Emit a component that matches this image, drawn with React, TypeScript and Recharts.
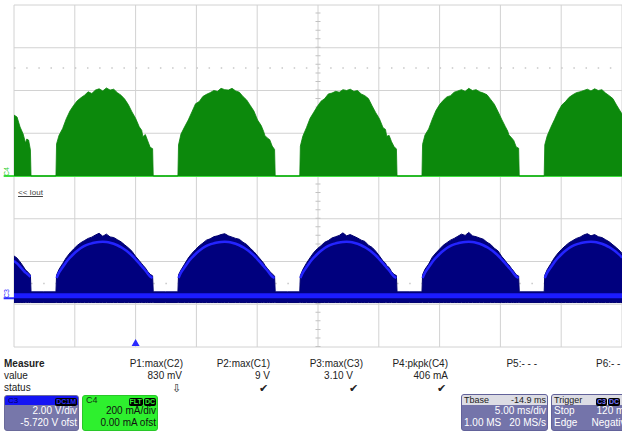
import React from "react"
import {
  ComposedChart,
  Area,
  Line,
  XAxis,
  YAxis,
  CartesianGrid,
  ReferenceLine,
  ReferenceDot,
} from "recharts"

// time base: 5 ms/div, 10 divisions shown
const timeTicks = [0, 5, 10, 15, 20, 25, 30, 35, 40, 45, 50]
// C4 (Iout): 200 mA/div, 0 mA offset
const ioutTicks = [-800, -600, -400, -200, 0, 200, 400, 600, 800]
// C3: 2 V/div, -5.720 V offset -> screen centre is 5.72 V
const voutDomain = [-2.28, 13.72]
const voutFloor = -0.2

const time = [
  0, 0.25, 0.5, 0.75, 0.95, 1.05, 1.2, 1.35, 1.4, 2.4,
  3.45, 3.5, 3.7, 4.0, 4.3, 4.6, 4.9, 5.2, 5.5, 5.8, 6.1, 6.4, 6.7, 7.0, 7.3, 7.6, 7.9, 8.2, 8.5, 8.8, 9.1, 9.4, 9.7, 10.0, 10.3, 10.5, 10.6, 10.8, 11.0, 11.2, 11.4, 11.45, 12.45,
  13.48, 13.53, 13.73, 14.03, 14.33, 14.63, 14.93, 15.23, 15.53, 15.83, 16.13, 16.43, 16.73, 17.03, 17.33, 17.63, 17.93, 18.23, 18.53, 18.83, 19.13, 19.43, 19.73, 20.03, 20.33, 20.53, 20.63, 20.83, 21.03, 21.23, 21.43, 21.48, 22.5,
  23.5, 23.55, 23.75, 24.05, 24.35, 24.65, 24.95, 25.25, 25.55, 25.85, 26.15, 26.45, 26.75, 27.05, 27.35, 27.65, 27.95, 28.25, 28.55, 28.85, 29.15, 29.45, 29.75, 30.05, 30.35, 30.55, 30.65, 30.85, 31.05, 31.25, 31.45, 31.5, 32.5,
  33.55, 33.6, 33.8, 34.1, 34.4, 34.7, 35.0, 35.3, 35.6, 35.9, 36.2, 36.5, 36.8, 37.1, 37.4, 37.7, 38.0, 38.3, 38.6, 38.9, 39.2, 39.5, 39.8, 40.1, 40.4, 40.6, 40.7, 40.9, 41.1, 41.3, 41.5, 41.55, 42.6,
  43.6, 43.65, 43.85, 44.15, 44.45, 44.75, 45.05, 45.35, 45.65, 45.95, 46.25, 46.55, 46.85, 47.15, 47.45, 47.75, 48.05, 48.35, 48.65, 48.95, 49.25, 49.55, 49.85, 50.0,
]

// C4 Iout, mA
const iout = [
  285, 276, 229, 197, 154, 173, 168, 122, 0, 0,
  0, 150, 190, 222, 268, 304, 330, 352, 366, 378, 394, 386, 402, 408, 398, 412, 402, 406, 390, 378, 360, 334, 300, 270, 230, 214, 184, 194, 164, 134, 128, 0, 0,
  0, 145, 196, 230, 262, 300, 338, 348, 372, 382, 390, 400, 396, 410, 404, 402, 410, 398, 392, 372, 356, 330, 304, 262, 236, 208, 190, 178, 170, 140, 124, 0, 0,
  0, 140, 186, 226, 270, 298, 326, 350, 362, 384, 388, 396, 392, 404, 400, 406, 396, 400, 384, 376, 362, 328, 296, 268, 226, 218, 186, 190, 160, 138, 126, 0, 0,
  0, 148, 192, 220, 266, 306, 334, 354, 370, 376, 392, 398, 404, 396, 410, 400, 404, 394, 388, 380, 358, 336, 302, 266, 232, 210, 192, 180, 166, 136, 130, 0, 0,
  0, 146, 188, 228, 264, 302, 332, 348, 368, 380, 390, 394, 400, 406, 398, 408, 400, 404, 388, 376, 362, 332, 304, 290,
]

// C3, V (envelope top)
const vout = [
  1.98, 1.88, 1.7, 1.5, 1.32, 1.28, 1.18, 1.1, 0.3, 0.3,
  0.3, 1.08, 1.35, 1.62, 1.9, 2.12, 2.3, 2.47, 2.6, 2.7, 2.8, 2.86, 2.96, 3.04, 2.9, 3.0, 2.87, 2.84, 2.74, 2.64, 2.5, 2.36, 2.2, 1.96, 1.76, 1.62, 1.55, 1.42, 1.25, 1.12, 1.05, 0.3, 0.3,
  0.3, 1.1, 1.32, 1.6, 1.88, 2.1, 2.28, 2.45, 2.58, 2.72, 2.78, 2.88, 2.92, 2.98, 3.02, 2.92, 2.86, 2.8, 2.76, 2.62, 2.52, 2.34, 2.18, 1.98, 1.78, 1.64, 1.54, 1.4, 1.26, 1.14, 1.04, 0.3, 0.3,
  0.3, 1.06, 1.34, 1.64, 1.9, 2.14, 2.32, 2.46, 2.62, 2.7, 2.82, 2.88, 2.94, 3.06, 2.92, 2.98, 2.9, 2.82, 2.72, 2.66, 2.48, 2.38, 2.2, 1.98, 1.74, 1.64, 1.52, 1.44, 1.24, 1.12, 1.06, 0.3, 0.3,
  0.3, 1.1, 1.36, 1.6, 1.92, 2.12, 2.3, 2.48, 2.6, 2.72, 2.8, 2.9, 3.0, 2.94, 3.08, 2.92, 2.88, 2.82, 2.76, 2.62, 2.52, 2.34, 2.22, 1.96, 1.76, 1.6, 1.56, 1.4, 1.26, 1.1, 1.04, 0.3, 0.3,
  0.3, 1.08, 1.34, 1.62, 1.9, 2.12, 2.3, 2.46, 2.6, 2.7, 2.8, 2.86, 2.96, 3.02, 2.92, 2.98, 2.88, 2.84, 2.74, 2.64, 2.5, 2.36, 2.2, 2.1,
]

// C3 bright trace inside the envelope, V
const voutArc = [
  1.75, 1.63, 1.48, 1.32, 1.2, 1.16, 1.08, 1.0, null, null,
  null, 0.95, 1.2, 1.45, 1.7, 1.9, 2.07, 2.22, 2.35, 2.45, 2.52, 2.57, 2.61, 2.63, 2.64, 2.63, 2.6, 2.55, 2.48, 2.39, 2.28, 2.15, 2.0, 1.82, 1.63, 1.5, 1.43, 1.3, 1.15, 1.02, 0.95, null, null,
  null, 0.95, 1.2, 1.45, 1.7, 1.9, 2.07, 2.22, 2.35, 2.45, 2.52, 2.57, 2.61, 2.63, 2.64, 2.63, 2.6, 2.55, 2.48, 2.39, 2.28, 2.15, 2.0, 1.82, 1.63, 1.5, 1.43, 1.3, 1.15, 1.02, 0.95, null, null,
  null, 0.95, 1.2, 1.45, 1.7, 1.9, 2.07, 2.22, 2.35, 2.45, 2.52, 2.57, 2.61, 2.63, 2.64, 2.63, 2.6, 2.55, 2.48, 2.39, 2.28, 2.15, 2.0, 1.82, 1.63, 1.5, 1.43, 1.3, 1.15, 1.02, 0.95, null, null,
  null, 0.95, 1.2, 1.45, 1.7, 1.9, 2.07, 2.22, 2.35, 2.45, 2.52, 2.57, 2.61, 2.63, 2.64, 2.63, 2.6, 2.55, 2.48, 2.39, 2.28, 2.15, 2.0, 1.82, 1.63, 1.5, 1.43, 1.3, 1.15, 1.02, 0.95, null, null,
  null, 0.95, 1.2, 1.45, 1.7, 1.9, 2.07, 2.22, 2.35, 2.45, 2.52, 2.57, 2.61, 2.63, 2.64, 2.63, 2.6, 2.55, 2.48, 2.39, 2.28, 2.15, 2.0, 1.9,
]

// faint dotted levels
const ioutDotLevel = 505
const voutDotLevel = 0.69
const voutGaps = [
  [1.4, 3.45],
  [11.45, 13.48],
  [21.48, 23.5],
  [31.5, 33.55],
  [41.55, 43.6],
]

const measureNames = ["P1:max(C2)", "P2:max(C1)", "P3:max(C3)", "P4:pkpk(C4)", "P5:- - -", "P6:- -"]
const measureValues = ["830 mV", "9 V", "3.10 V", "406 mA", "", ""]
const measureStatus = ["⇩", "✔", "✔", "✔", "", ""]

const rows = time.map((t, i) => ({ t, iout: iout[i], vout: vout[i], arc: voutArc[i] }))
const dotRows = voutGaps.flatMap(([a, b]) => [
  { t: a, v: voutDotLevel },
  { t: b, v: voutDotLevel },
  { t: b + 0.001, v: null },
])

const FONT = '"Liberation Sans", Arial, sans-serif'

function T({ x, y, right, children, style }: any) {
  const w = 140
  return (
    <div
      style={{
        position: "absolute",
        left: right ? x - w : x,
        top: y - 6,
        width: w,
        textAlign: right ? "right" : "left",
        fontSize: 10,
        lineHeight: "12px",
        whiteSpace: "nowrap",
        color: "#222",
        ...style,
      }}
    >
      {children}
    </div>
  )
}

function Badge({ children, color }: any) {
  return (
    <span
      style={{
        background: "#000",
        color,
        fontSize: 7,
        lineHeight: "8px",
        fontWeight: "bold",
        padding: "0 1px",
        marginLeft: 1,
        borderRadius: 2,
        display: "inline-block",
      }}
    >
      {children}
    </span>
  )
}

const Triangle = (p: any) => (
  <polygon
    points={`${p.cx - 4},${p.cy - 1} ${p.cx + 4},${p.cy - 1} ${p.cx},${p.cy - 8}`}
    fill="#2a2aff"
  />
)

const statusStyle = { fontSize: 11, color: "#222" }

export default function App() {
  return (
    <div
      style={{
        position: "absolute",
        left: 0,
        top: 0,
        width: 622,
        height: 437,
        overflow: "hidden",
        background: "#fff",
        fontFamily: FONT,
      }}
    >
      <ComposedChart
        width={622}
        height={437}
        data={rows}
        margin={{ top: 5, right: 0, bottom: 90, left: 14 }}
      >
        <XAxis dataKey="t" type="number" domain={[0, 50]} ticks={timeTicks} hide allowDataOverflow />
        <YAxis yAxisId="c4" type="number" domain={[-800, 800]} ticks={ioutTicks} hide />
        <YAxis yAxisId="c3" type="number" domain={voutDomain} hide allowDataOverflow />
        <CartesianGrid yAxisId="c4" stroke="#d2d2d2" />
        <ReferenceLine
          yAxisId="c4"
          x={25}
          stroke="#c2c2c2"
          strokeWidth={5}
          strokeDasharray="1 7.55"
          zIndex={-50}
        />
        <ReferenceLine
          yAxisId="c4"
          y={ioutDotLevel}
          stroke="#c8c8c8"
          strokeWidth={1.5}
          strokeDasharray="1.5 10.66"
          zIndex={-50}
        />
        <ReferenceLine yAxisId="c4" y={0} stroke="#3fe03f" strokeWidth={2} zIndex={50} />
        <Line
          yAxisId="c3"
          data={dotRows}
          dataKey="v"
          stroke="#c8c8c8"
          strokeWidth={1.5}
          strokeDasharray="1.5 10.66"
          dot={false}
          connectNulls={false}
          isAnimationActive={false}
          zIndex={50}
        />
        <Area
          yAxisId="c4"
          dataKey="iout"
          type="linear"
          baseValue={0}
          fill="#0c890c"
          fillOpacity={1}
          stroke="#0a840a"
          strokeWidth={0.8}
          isAnimationActive={false}
        />
        <Area
          yAxisId="c3"
          dataKey={(d: any) => [voutFloor, d.vout]}
          type="linear"
          fill="#00007e"
          fillOpacity={1}
          stroke="#00006e"
          strokeWidth={1}
          isAnimationActive={false}
        />
        <ReferenceLine yAxisId="c3" y={0.12} stroke="#1c1cff" strokeWidth={5} zIndex={150} />
        <Line
          yAxisId="c3"
          dataKey="arc"
          type="monotone"
          stroke="#2424ff"
          strokeWidth={2.5}
          dot={false}
          connectNulls={false}
          isAnimationActive={false}
        />
        <ReferenceLine
          yAxisId="c4"
          segment={[{ x: -0.85, y: 0 }, { x: 0, y: 0 }]}
          ifOverflow="visible"
          stroke="#3fe03f"
          strokeWidth={2}
        />
        <ReferenceLine
          yAxisId="c3"
          segment={[{ x: -0.85, y: 0 }, { x: 0, y: 0 }]}
          ifOverflow="visible"
          stroke="#2a2aff"
          strokeWidth={2}
        />
        <ReferenceDot
          yAxisId="c4"
          x={10}
          y={-800}
          ifOverflow="visible"
          shape={Triangle}
        />
      </ComposedChart>

      {/* trace labels */}
      <div style={{ position: "absolute", left: 3, top: 176, width: 12, fontSize: 7, lineHeight: "7px", color: "#2fcf2f", transform: "rotate(-90deg)", transformOrigin: "left top" }}>C4</div>
      <div style={{ position: "absolute", left: 3, top: 298, width: 12, fontSize: 7, lineHeight: "7px", color: "#2a2aff", transform: "rotate(-90deg)", transformOrigin: "left top" }}>C3</div>
      <div style={{ position: "absolute", left: 18, top: 188, fontSize: 8, lineHeight: "9px", color: "#444", textDecoration: "underline" }}>
        {"<< Iout"}
      </div>

      {/* measure table */}
      <T x={4} y={364} style={{ fontWeight: "bold" }}>Measure</T>
      <T x={4} y={376}>value</T>
      <T x={4} y={388}>status</T>
      <T x={183} y={364} right>{measureNames[0]}</T>
      <T x={270} y={364} right>{measureNames[1]}</T>
      <T x={363} y={364} right>{measureNames[2]}</T>
      <T x={448} y={364} right>{measureNames[3]}</T>
      <T x={537} y={364} right>{measureNames[4]}</T>
      <T x={596} y={364}>{measureNames[5]}</T>
      <T x={182} y={376} right>{measureValues[0]}</T>
      <T x={270} y={376} right>{measureValues[1]}</T>
      <T x={353} y={376} right>{measureValues[2]}</T>
      <T x={448} y={376} right>{measureValues[3]}</T>
      <T x={181} y={388} right style={statusStyle}>{measureStatus[0]}</T>
      <T x={268} y={388} right style={statusStyle}>{measureStatus[1]}</T>
      <T x={358} y={388} right style={statusStyle}>{measureStatus[2]}</T>
      <T x={446} y={388} right style={statusStyle}>{measureStatus[3]}</T>

      {/* C3 channel box */}
      <div style={{ position: "absolute", left: 4, top: 395, width: 75, height: 36, background: "#7777aa", borderRadius: 3, overflow: "hidden", border: "1px solid #6a6a9a", boxSizing: "border-box" }}>
        <div style={{ height: 9, background: "#1414f4", fontSize: 8, lineHeight: "9px", color: "#000060", paddingLeft: 3, position: "relative" }}>
          C3
          <span style={{ position: "absolute", right: 1, top: 1 }}><Badge color="#2a2aff">DC1M</Badge></span>
        </div>
        <div style={{ fontSize: 10, lineHeight: "12px", color: "#fff", textAlign: "right", paddingRight: 1 }}>2.00 V/div</div>
        <div style={{ fontSize: 10, lineHeight: "12px", color: "#fff", textAlign: "right", paddingRight: 1, whiteSpace: "nowrap" }}>-5.720 V ofst</div>
      </div>

      {/* C4 channel box */}
      <div style={{ position: "absolute", left: 82, top: 395, width: 76, height: 36, background: "#2ef02e", borderRadius: 3, overflow: "hidden", border: "1px solid #28c828", boxSizing: "border-box" }}>
        <div style={{ height: 9, fontSize: 9, lineHeight: "9px", color: "#113311", paddingLeft: 3, position: "relative" }}>
          C4
          <span style={{ position: "absolute", right: 1, top: 1 }}>
            <Badge color="#33ee33">FLT</Badge>
            <Badge color="#33ee33">DC</Badge>
          </span>
        </div>
        <div style={{ fontSize: 10, lineHeight: "12px", color: "#111", textAlign: "right", paddingRight: 1 }}>200 mA/div</div>
        <div style={{ fontSize: 10, lineHeight: "12px", color: "#111", textAlign: "right", paddingRight: 1, whiteSpace: "nowrap" }}>0.00 mA ofst</div>
      </div>

      {/* Timebase box */}
      <div style={{ position: "absolute", left: 461, top: 394, width: 87, height: 37, background: "#7474aa", borderRadius: 3, overflow: "hidden", border: "1px solid #62629a", boxSizing: "border-box" }}>
        <div style={{ height: 10, background: "#dcdce4", fontSize: 9, lineHeight: "10px", color: "#222", padding: "0 1px 0 2px", display: "flex", justifyContent: "space-between" }}>
          <span>Tbase</span>
          <span>-14.9 ms</span>
        </div>
        <div style={{ fontSize: 10, lineHeight: "12px", color: "#fff", textAlign: "right", paddingRight: 1 }}>5.00 ms/div</div>
        <div style={{ fontSize: 10, lineHeight: "12px", color: "#fff", display: "flex", justifyContent: "space-between", padding: "0 1px 0 2px" }}>
          <span>1.00 MS</span>
          <span>20 MS/s</span>
        </div>
      </div>

      {/* Trigger box, cut by the screen edge as in the capture */}
      <div style={{ position: "absolute", left: 551, top: 394, width: 82, height: 37, background: "#7474aa", borderRadius: 3, overflow: "hidden", border: "1px solid #62629a", boxSizing: "border-box" }}>
        <div style={{ height: 10, background: "#dcdce4", fontSize: 9, lineHeight: "10px", color: "#222", paddingLeft: 2, position: "relative", whiteSpace: "nowrap" }}>
          Trigger
          <span style={{ position: "absolute", left: 43, top: 1 }}>
            <Badge color="#7777ff">C3</Badge>
            <Badge color="#7777ff">DC</Badge>
          </span>
        </div>
        <div style={{ fontSize: 10, lineHeight: "12px", color: "#fff", display: "flex", justifyContent: "space-between", padding: "0 1px 0 2px", whiteSpace: "nowrap" }}>
          <span>Stop</span>
          <span>120 mV</span>
        </div>
        <div style={{ fontSize: 10, lineHeight: "12px", color: "#fff", display: "flex", justifyContent: "space-between", padding: "0 1px 0 2px", whiteSpace: "nowrap" }}>
          <span>Edge</span>
          <span>Negative</span>
        </div>
      </div>
    </div>
  )
}
